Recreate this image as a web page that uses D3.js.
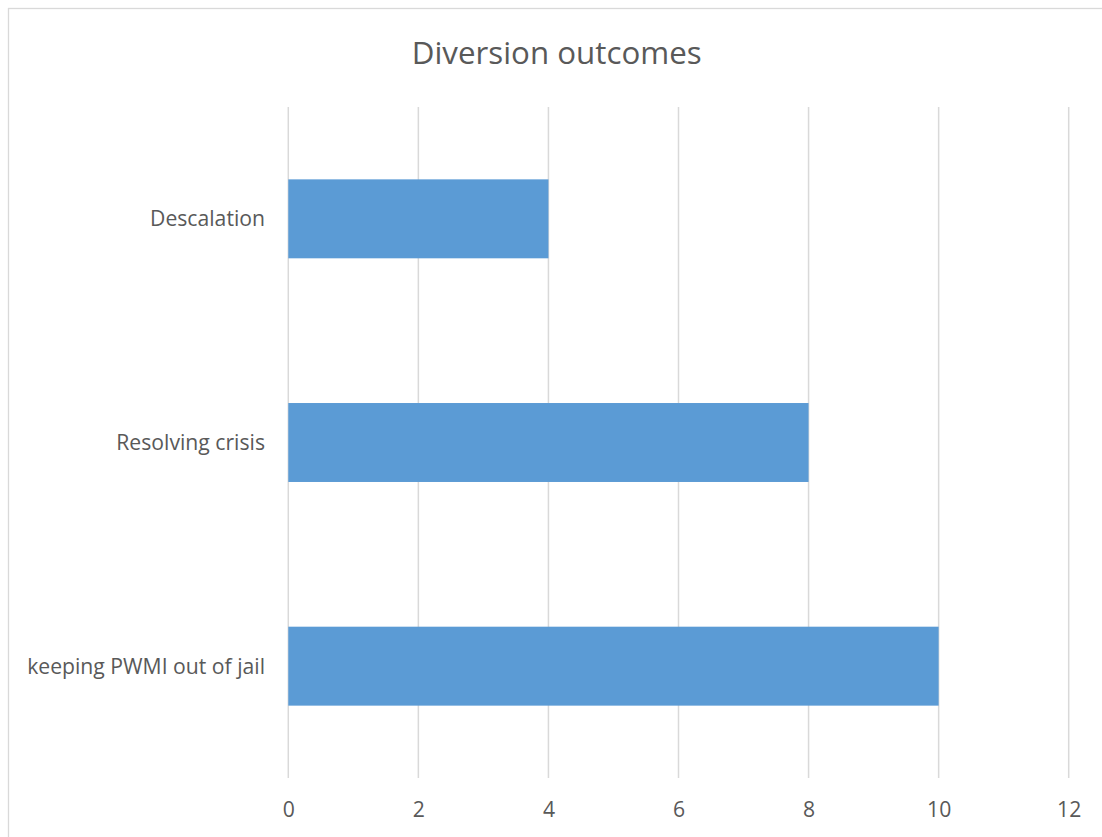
<!DOCTYPE html>
<html>
<head>
<meta charset="utf-8">
<script src="https://cdn.jsdelivr.net/npm/d3@7"></script>
<style>
  html, body { margin: 0; padding: 0; background: #fff; overflow: hidden; }
  svg { display: block; font-family: "Open Sans", "Noto Sans", sans-serif; }
</style>
</head>
<body>
<svg id="chart" width="1102" height="837"></svg>
<script>
const title = "Diversion outcomes";
const categories = ["Descalation", "Resolving crisis", "keeping PWMI out of jail"];
const values = [4, 8, 10];
const xTicks = [0, 2, 4, 6, 8, 10, 12];

const svg = d3.select("#chart");
const textColor = "#595959";
const gridColor = "#d9d9d9";
const barColor = "#5b9bd5";

// chart frame
svg.append("rect")
  .attr("x", 8.5).attr("y", 8.5)
  .attr("width", 1300).attr("height", 1000)
  .attr("fill", "#fff")
  .attr("stroke", gridColor).attr("stroke-width", 1.3);

const plot = { left: 288.3, right: 1068.7, top: 107, bottom: 778 };

const x = d3.scaleLinear().domain([0, 12]).range([plot.left, plot.right]);
const y = d3.scaleBand().domain(categories)
  .range([plot.top, plot.bottom])
  .paddingInner(0.647).paddingOuter(0.3235);

// gridlines
svg.append("g").selectAll("line").data(xTicks).join("line")
  .attr("x1", d => x(d)).attr("x2", d => x(d))
  .attr("y1", plot.top).attr("y2", plot.bottom)
  .attr("stroke", gridColor).attr("stroke-width", 1.5);

// bars
svg.append("g").selectAll("rect").data(categories).join("rect")
  .attr("x", x(0))
  .attr("y", d => y(d))
  .attr("width", (d, i) => x(values[i]) - x(0))
  .attr("height", y.bandwidth())
  .attr("fill", barColor);

function fit(sel, targetW) {
  const n = sel.node();
  const fs = parseFloat(sel.attr("font-size"));
  const w = n.getComputedTextLength();
  sel.attr("font-size", (fs * targetW / w).toFixed(2));
}

// y axis category labels
const yAxis = d3.axisLeft(y).tickSize(0).tickPadding(0);
const yg = svg.append("g").attr("transform", `translate(265,0)`).call(yAxis);
yg.select(".domain").remove();
yg.selectAll("text")
  .attr("x", 0).attr("dy", "0.36em")
  .attr("fill", textColor)
  .attr("font-size", 20)
  .attr("font-family", "'Open Sans', sans-serif");
fit(yg.selectAll("text").filter(d => d === categories[2]), 238);
const lfs = yg.selectAll("text").filter(d => d === categories[2]).attr("font-size");
yg.selectAll("text").attr("font-size", lfs);

// x axis tick labels
const xAxis = d3.axisBottom(x).tickValues(xTicks).tickSize(0).tickPadding(0).tickFormat(d3.format("d"));
const xg = svg.append("g").attr("transform", `translate(0,${plot.bottom})`).call(xAxis);
xg.select(".domain").remove();
xg.selectAll("text")
  .attr("y", 0).attr("dy", null)
  .attr("transform", "translate(0,39)")
  .attr("fill", textColor)
  .attr("font-size", lfs)
  .attr("font-family", "'Open Sans', sans-serif");

// title
const t = svg.append("text")
  .attr("x", 556.7).attr("y", 64)
  .attr("text-anchor", "middle")
  .attr("fill", textColor)
  .attr("font-size", 28)
  .text(title);
fit(t, 290);
</script>
</body>
</html>
